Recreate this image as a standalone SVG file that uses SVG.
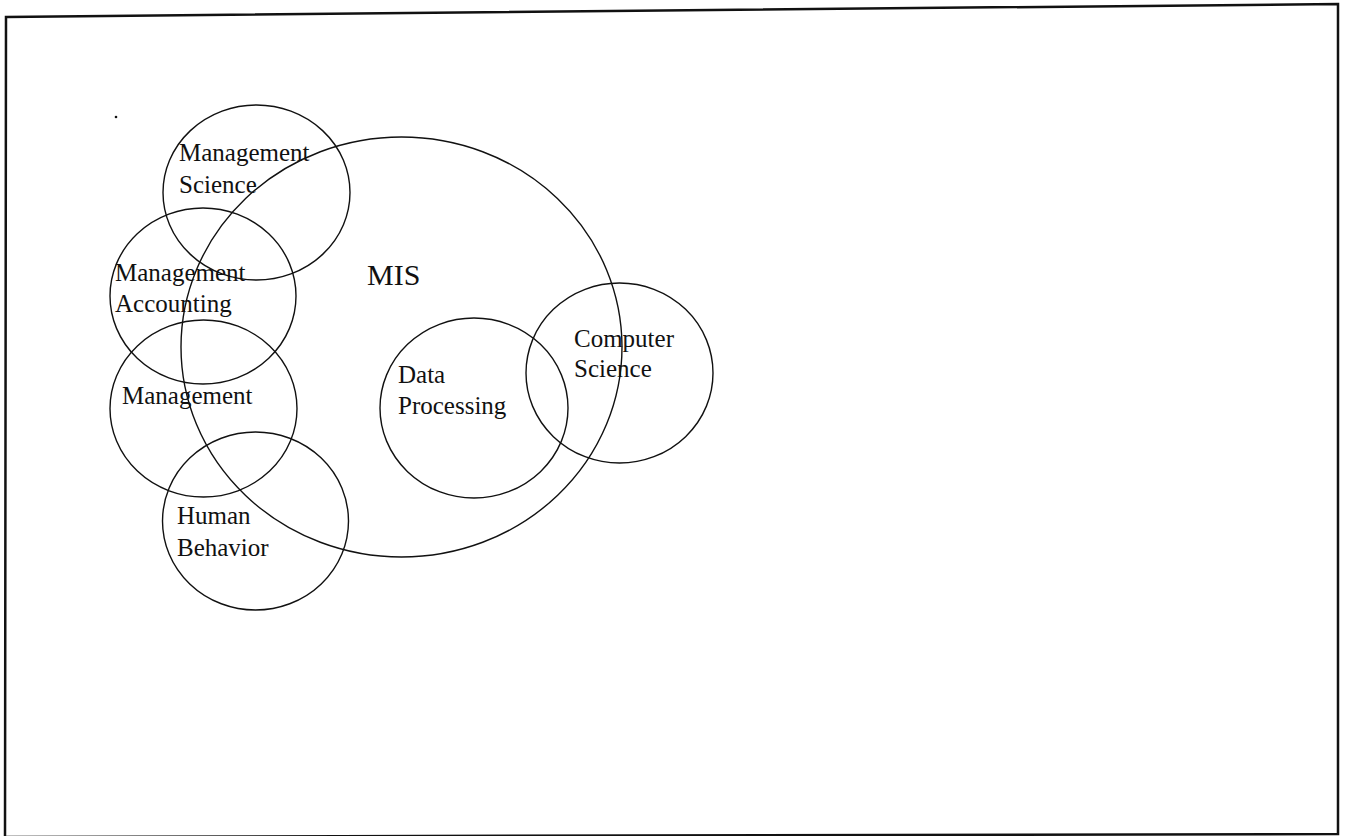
<svg xmlns="http://www.w3.org/2000/svg" width="1349" height="836" viewBox="0 0 1349 836">
  <style>
    .ring { fill: none; stroke: #111; stroke-width: 1.4; }
    .lbl { font-family: "Liberation Serif", "Times New Roman", serif; font-size: 25px; fill: #111; }
    .big { font-family: "Liberation Serif", "Times New Roman", serif; font-size: 30px; fill: #111; }
  </style>
  <rect x="0" y="0" width="1349" height="836" fill="#ffffff"/>
  <g id="frame">
    <polygon points="6,17 1338,4 1338,834 5,837" fill="none" stroke="#111" stroke-width="2.5"/>
    <circle cx="116" cy="117" r="1.3" fill="#111"/>
  </g>
  <g id="connectors"></g>
  <g id="mis">
    <ellipse class="ring" cx="401.5" cy="347" rx="220.5" ry="210"/>
    <text class="big" x="367" y="285">MIS</text>
  </g>
  <g id="management-science">
    <ellipse class="ring" cx="256.5" cy="192.5" rx="93.5" ry="87.5"/>
    <text class="lbl" x="179" y="161">Management</text>
    <text class="lbl" x="179" y="193">Science</text>
  </g>
  <g id="management-accounting">
    <ellipse class="ring" cx="203" cy="296" rx="93" ry="88"/>
    <text class="lbl" x="115" y="281">Management</text>
    <text class="lbl" x="115" y="312">Accounting</text>
  </g>
  <g id="management">
    <ellipse class="ring" cx="203.5" cy="408.5" rx="93.5" ry="88.5"/>
    <text class="lbl" x="122" y="404">Management</text>
  </g>
  <g id="human-behavior">
    <ellipse class="ring" cx="255.5" cy="521" rx="93" ry="89"/>
    <text class="lbl" x="177" y="524">Human</text>
    <text class="lbl" x="177" y="556">Behavior</text>
  </g>
  <g id="data-processing">
    <ellipse class="ring" cx="474" cy="408" rx="94" ry="90"/>
    <text class="lbl" x="398" y="383">Data</text>
    <text class="lbl" x="398" y="414">Processing</text>
  </g>
  <g id="computer-science">
    <ellipse class="ring" cx="619.5" cy="373" rx="93.5" ry="90"/>
    <text class="lbl" x="574" y="347">Computer</text>
    <text class="lbl" x="574" y="377">Science</text>
  </g>
</svg>
